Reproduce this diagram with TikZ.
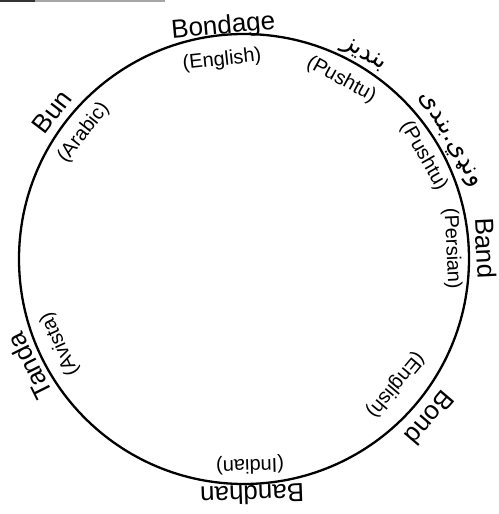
\documentclass[tikz,border=0pt]{standalone}
\usepackage{fontspec}
\setmainfont{Liberation Sans}
\newfontfamily\arabicfont[Script=Arabic]{DejaVu Sans}
\TeXXeTstate=1
\begin{document}
\begin{tikzpicture}[x=1pt,y=1pt,
  outerlab/.style={font=\fontsize{26}{26}\selectfont, inner sep=0pt},
  innerlab/.style={font=\fontsize{20}{20}\selectfont, inner sep=0pt},
  arablab/.style={font=\arabicfont\fontsize{25}{25}\selectfont, inner sep=0pt}]
\useasboundingbox (-244,-255) rectangle (254,259);
% scan edge line at the top
\draw[black!35, line width=1.2pt] (-244,258) -- (-79,258);
\draw[black!80, line width=1.4pt] (-244,258) -- (-209,258);
% ring
\node[draw, circle, line width=2.3pt, minimum size=450pt, inner sep=0pt] (ring) at (0,0) {};
% labels
\node[outerlab, rotate=5.1]    (bondage) at (95.1:233) {Bondage};
\node[innerlab, rotate=6.3]    (english1) at (96.3:200) {(English)};
\node[arablab, rotate=-30.4]   (bandiz) at (59.6:236) {\beginR بندیز\endR};
\node[innerlab, rotate=-28.5]  (pushtu1) at (61.5:204) {(Pushtu)};
\node[arablab, rotate=-60]     (wandi) at (30:237) {\beginR ونډي.بندی\endR};
\node[innerlab, rotate=-60.2]  (pushtu2) at (29.8:207) {(Pushtu)};
\node[outerlab, rotate=-87.4]  (band) at (2.6:242) {Band};
\node[innerlab, rotate=-87.2]  (persian) at (2.8:208) {(Persian)};
\node[outerlab, rotate=-130.5] (bond) at (-40.5:245) {Bond};
\node[innerlab, rotate=-129.8] (english2) at (-39.8:197) {(English)};
\node[outerlab, rotate=-178]   (bandhan) at (-88:236) {Bandhan};
\node[innerlab, rotate=-178.3] (indian) at (-88.3:206) {(Indian)};
\node[outerlab, rotate=116.5]  (tanda) at (206.5:240) {Tanda};
\node[innerlab, rotate=114.8]  (avista) at (204.8:203) {(Avista)};
\node[outerlab, rotate=52.6]   (bun) at (142.6:242) {Bun};
\node[innerlab, rotate=51.8]   (arabic) at (141.8:204) {(Arabic)};
\end{tikzpicture}
\end{document}
